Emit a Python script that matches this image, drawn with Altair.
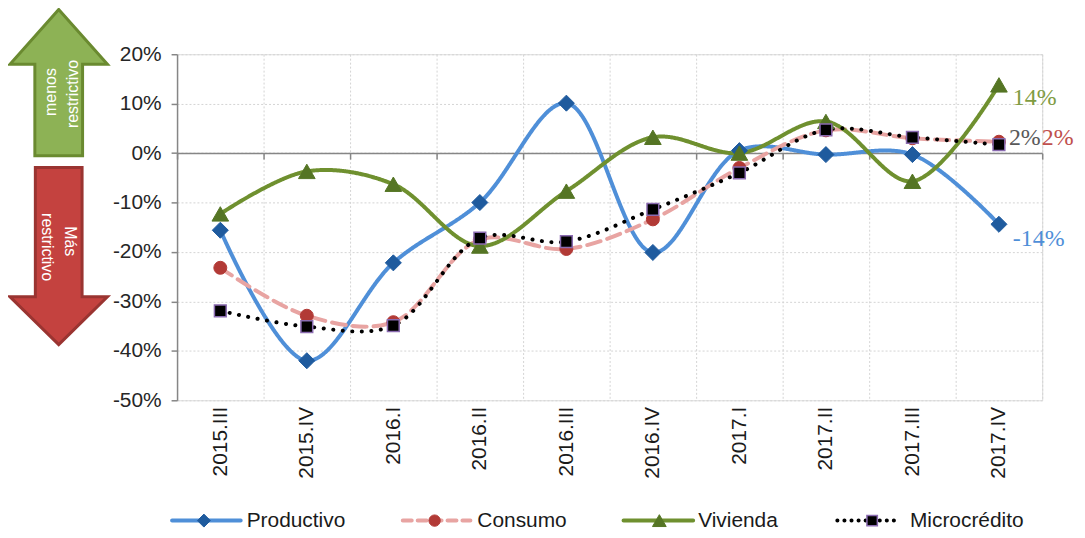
import altair as alt
import pandas as pd

# ---------------- data ----------------
quarters = ["2015.III", "2015.IV", "2016.I", "2016.II", "2016.III",
            "2016.IV", "2017.I", "2017.II", "2017.III", "2017.IV"]
productivo = [-15.6, -42.0, -22.2, -10.0, 10.1, -20.1, 0.5, -0.3, -0.3, -14.4]
consumo = [-23.2, -32.9, -34.2, -17.5, -19.4, -13.4, -3.0, 4.6, 3.0, 2.3]
vivienda = [-12.3, -3.7, -6.3, -18.8, -7.7, 3.2, 0.0, 6.4, -5.7, 13.8]
microcredito = [-31.9, -35.1, -34.9, -17.2, -17.9, -11.4, -4.0, 4.7, 3.2, 1.7]
series_names = ["Productivo", "Consumo", "Vivienda", "Microcrédito"]
series_values = [productivo, consumo, vivienda, microcredito]
y_ticks = [-50, -40, -30, -20, -10, 0, 10, 20]
arrow_up_text = ["menos", "restrictivo"]
arrow_down_text = ["Más", "restrictivo"]

# ---------------- layout / style ----------------
W, H = 870, 348
YMIN, YMAX = -50, 20
SANS = "Liberation Sans, Arial, sans-serif"
SERIF = "Liberation Serif, Times New Roman, serif"

styles = {
    "Productivo": dict(line="#4F8FD8", dash=[1, 0], width=4, shape="diamond",
                       fill="#1F5B9E", stroke="#1F5B9E", sw=1, size=260, lsize=170,
                       lab="#4F8FD8", dx=14, dy=15, ldash=[1, 0]),
    "Consumo": dict(line="#E8A4A2", dash=[14, 7], width=4, shape="circle",
                    fill="#B23A36", stroke="#B23A36", sw=1, size=170, lsize=130,
                    lab="#C0504D", dx=43, dy=-4, ldash=[9, 6]),
    "Vivienda": dict(line="#6F902F", dash=[1, 0], width=4, shape="triangle-up",
                     fill="#557524", stroke="#557524", sw=1, size=280, lsize=190,
                     lab="#7F9C42", dx=14, dy=13, ldash=[1, 0]),
    "Microcrédito": dict(line="#000000", dash=[0.1, 9.5], width=4, shape="square",
                         fill="#000000", stroke="#8A6BB0", sw=1.5, size=140, lsize=110,
                         lab="#595959", dx=10, dy=-7, ldash=[0.1, 7]),
}

rows = []
for name, vals in zip(series_names, series_values):
    for q, v in zip(quarters, vals):
        rows.append({"q": q, "v": v, "serie": name})
df = pd.DataFrame(rows)

xscale = alt.Scale(type="band", domain=quarters, paddingInner=0, paddingOuter=0)
yscale = alt.Scale(domain=[YMIN, YMAX], nice=False, zero=False)

X = alt.X("q:N", sort=quarters, scale=xscale,
          axis=alt.Axis(orient="bottom", title=None, labelAngle=270, labelAlign="right",
                        labelBaseline="middle",
                        labelFontSize=21, labelFont=SANS, labelColor="#1a1a1a",
                        labelPadding=6, domain=False, ticks=False,
                        grid=True, gridDash=[2, 2], gridColor="#d4d4d4", gridWidth=1,
                        tickBand="extent"))
Y = alt.Y("v:Q", scale=yscale,
          axis=alt.Axis(title=None, values=y_ticks, labelExpr="datum.value + '%'",
                        labelFontSize=21, labelFont=SANS, labelColor="#262626",
                        labelPadding=10, domainColor="#868686", domainWidth=1.5,
                        tickColor="#868686", tickSize=6, tickWidth=1.5,
                        grid=True, gridDash=[2, 2], gridColor="#d4d4d4", gridWidth=1))

zero_offset = -(H - H * (YMAX - 0) / (YMAX - YMIN))
X0 = alt.X("q:N", sort=quarters, scale=xscale,
           axis=alt.Axis(orient="bottom", title=None, labels=False, grid=False, domain=True,
                         domainColor="#868686", domainWidth=1.5, ticks=True,
                         tickColor="#868686", tickWidth=1.5, tickSize=6,
                         tickBand="extent", offset=zero_offset))

series_layers = []
for name in series_names:
    st = styles[name]
    d = df[df.serie == name]
    series_layers.append(
        alt.Chart(d).mark_line(interpolate="catmull-rom", color=st["line"],
                               strokeWidth=st["width"], strokeDash=st["dash"],
                               strokeCap="round").encode(x=X, y=Y))
for name in series_names:
    st = styles[name]
    d = df[df.serie == name]
    series_layers.append(
        alt.Chart(d).mark_point(shape=st["shape"], filled=True, fill=st["fill"],
                                stroke=st["stroke"], strokeWidth=st["sw"],
                                size=st["size"], opacity=1).encode(x=X, y=Y))

# end-of-series value labels
for name in series_names:
    st = styles[name]
    d = df[(df.serie == name) & (df.q == quarters[-1])].copy()
    d["lbl"] = d["v"].apply(lambda v: f"{round(v)}%")
    series_layers.append(
        alt.Chart(d).mark_text(font=SERIF, fontSize=24, color=st["lab"], align="left",
                               baseline="middle", dx=st["dx"], dy=st["dy"])
        .encode(x=X, y=Y, text="lbl:N"))

data_layer = alt.layer(*series_layers)
zero_layer = alt.Chart(df).mark_point(opacity=0).encode(x=X0, y=Y)

# ---------------- decorations: arrows ----------------
one = pd.DataFrame({"k": [0]})
up_path = "M0,-72 L49,-17 L24,-17 L24,75 L-24,75 L-24,-17 L-49,-17 Z"
down_path = "M-23.5,-89 L23.5,-89 L23.5,41 L49,41 L0,89 L-49,41 L-23.5,41 Z"
OX, OY = 178, 53  # plot origin on the page
decor = [
    alt.Chart(one).mark_point(shape=up_path, size=4, filled=True, fill="#8DB255",
                              stroke="#6A8A30", strokeWidth=3, opacity=1)
    .encode(x=alt.value(59 - OX), y=alt.value(80 - OY)),
    alt.Chart(one).mark_point(shape=down_path, size=4, filled=True, fill="#C4423F",
                              stroke="#9A3431", strokeWidth=3, opacity=1)
    .encode(x=alt.value(59 - OX), y=alt.value(256 - OY)),
]
text_pos = [
    (arrow_up_text[0], 270, 51, 91),
    (arrow_up_text[1], 270, 73, 93),
    (arrow_down_text[0], 90, 70, 241),
    (arrow_down_text[1], 90, 47, 247),
]
for txt, ang, px, py in text_pos:
    decor.append(
        alt.Chart(one).mark_text(text=txt, angle=ang, font=SANS, fontSize=16,
                                 color="white", align="center", baseline="middle")
        .encode(x=alt.value(px - OX), y=alt.value(py - OY)))

# ---------------- manual legend ----------------
LY = 522 - OY
legend_pos = {  # line start, line end, marker, text (plot-relative)
    "Productivo": (-5, 64, 27, 70),
    "Consumo": (227, 295, 259, 302),
    "Vivienda": (449, 519, 485, 524),
    "Microcrédito": (664, 724, 699, 737),
}
legend_layers = []
for name in series_names:
    st = styles[name]
    x0, x1, xm, xt = legend_pos[name]
    lab = pd.DataFrame({"label": [name]})
    legend_layers.append(
        alt.Chart(lab).mark_rule(color=st["line"], strokeWidth=st["width"],
                                 strokeDash=st["ldash"], strokeCap="round")
        .encode(x=alt.value(x0), x2=alt.value(x1), y=alt.value(LY)))
    legend_layers.append(
        alt.Chart(lab).mark_point(shape=st["shape"], filled=True, fill=st["fill"],
                                  stroke=st["stroke"], strokeWidth=st["sw"],
                                  size=st["lsize"], opacity=1)
        .encode(x=alt.value(xm), y=alt.value(LY)))
    legend_layers.append(
        alt.Chart(lab).mark_text(font=SANS, fontSize=21, color="#1a1a1a", align="left",
                                 baseline="middle")
        .encode(x=alt.value(xt), y=alt.value(LY), text="label:N"))

chart = alt.layer(zero_layer, data_layer, *decor, *legend_layers).resolve_axis(
    x="independent"
).properties(
    width=W, height=H,
    autosize=alt.AutoSizeParams(type="none"),
    padding={"left": 170, "top": 45, "right": 35, "bottom": 136},
).configure_view(stroke=None).configure(background="white")

chart.save("out.html", embed_options={"renderer": "svg", "actions": False})
